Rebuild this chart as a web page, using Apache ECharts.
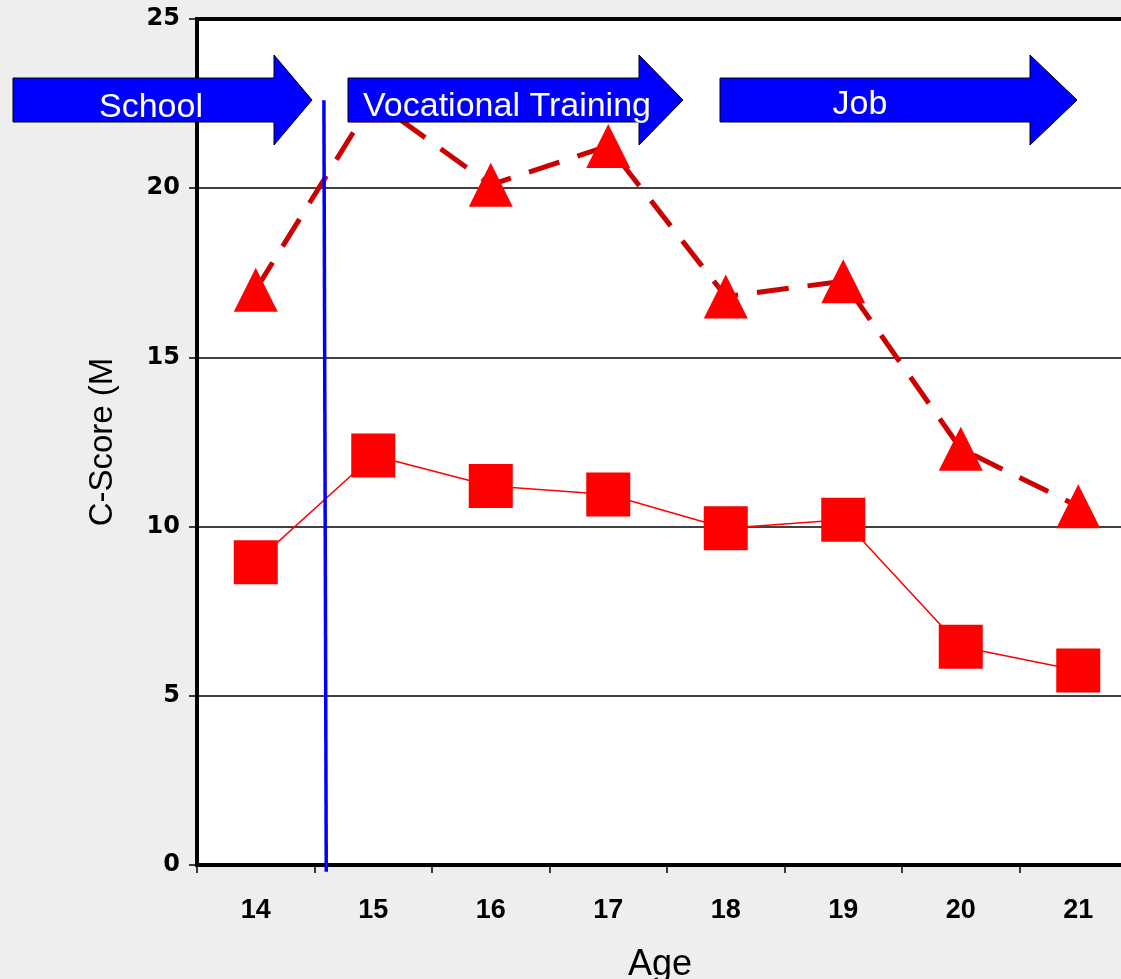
<!DOCTYPE html>
<html>
<head>
<meta charset="utf-8">
<script src="https://cdn.jsdelivr.net/npm/echarts@6/dist/echarts.min.js"></script>
<style>
  html, body { margin: 0; padding: 0; background: #eeeeee; overflow: hidden; }
  #chart { width: 1121px; height: 979px; }
</style>
</head>
<body>
<div id="chart"></div>
<script>
// ---- data ----
const categories = ['14', '15', '16', '17', '18', '19', '20', '21'];
const upperSeries = [17.0, 22.6, 20.1, 21.25, 16.8, 17.25, 12.3, 10.6];
const lowerSeries = [8.95, 12.1, 11.2, 10.95, 9.95, 10.2, 6.45, 5.75];
const yTicks = [0, 5, 10, 15, 20, 25];
// transition line (category index, value) between age 14 and 15
const transitionLine = [[0.58, 22.6], [0.6, -0.2]];
const phaseLabels = ['School', 'Vocational Training', 'Job'];

// ---- annotation geometry (arrows) ----
const arrowShapes = [
  { body: [13, 274], tip: 312, textX: 151, textY: 108 },
  { body: [348, 639], tip: 683, textX: 507, textY: 107 },
  { body: [720, 1030], tip: 1077, textX: 860, textY: 105 }
];

const FONT = '"Liberation Sans", Arial, Helvetica, sans-serif';
const WIDE = '"DejaVu Sans", Verdana, sans-serif';

const graphics = [];
arrowShapes.forEach((a, i) => {
  const x0 = a.body[0], x1 = a.body[1];
  graphics.push({
    type: 'polygon',
    z: 100,
    shape: { points: [[x0, 78], [x1, 78], [x1, 55], [a.tip, 100], [x1, 145], [x1, 122], [x0, 122]] },
    style: { fill: '#0000ff', stroke: '#000000', lineWidth: 1 }
  });
  graphics.push({
    type: 'text',
    z: 101,
    x: a.textX,
    y: a.textY,
    style: {
      text: phaseLabels[i],
      fill: '#ffffff',
      font: 'normal 34px ' + FONT,
      textAlign: 'center',
      textVerticalAlign: 'middle'
    }
  });
});

const chart = echarts.init(document.getElementById('chart'));
chart.setOption({
  animation: false,
  backgroundColor: '#eeeeee',
  grid: {
    left: 197, top: 19, width: 940, height: 846,
    show: true, backgroundColor: '#ffffff',
    borderColor: '#000000', borderWidth: 4,
    containLabel: false,
    outerBoundsMode: 'none'
  },
  xAxis: [
    {
      type: 'category',
      data: categories,
      boundaryGap: true,
      name: 'Age',
      nameLocation: 'middle',
      nameGap: 82,
      nameTextStyle: { fontFamily: FONT, fontSize: 36, color: '#000', padding: [0, 14, 0, 0] },
      axisLine: { lineStyle: { color: '#000', width: 4 } },
      axisTick: { show: true, length: 8, lineStyle: { color: '#000', width: 1.5 } },
      axisLabel: { fontFamily: FONT, fontSize: 27, fontWeight: 'bold', color: '#000', margin: 32 },
      splitLine: { show: false }
    },
    {
      type: 'value',
      min: -0.5, max: 7.5,
      show: false
    }
  ],
  yAxis: {
    type: 'value',
    min: 0, max: 25, interval: 5,
    name: 'C-Score (M',
    nameLocation: 'middle',
    nameGap: 78,
    nameTextStyle: { fontFamily: FONT, fontSize: 33, color: '#000' },
    axisLine: { show: true, onZero: false, lineStyle: { color: '#000', width: 4 } },
    axisTick: { show: true, length: 8, lineStyle: { color: '#000', width: 1.5 } },
    axisLabel: {
      fontFamily: WIDE, fontSize: 24, fontWeight: 'bold', color: '#000', margin: 17,
      padding: [6, 0, 0, 0],
      formatter: v => (yTicks.indexOf(v) >= 0 ? String(v) : '')
    },
    splitLine: { show: true, lineStyle: { color: '#000', width: 1.5 } }
  },
  series: [
    {
      type: 'line',
      name: 'upper',
      data: upperSeries,
      z: 3,
      symbol: 'triangle',
      symbolSize: 44,
      itemStyle: { color: '#ff0000' },
      lineStyle: { color: '#cc0000', width: 5, type: [32, 19], cap: 'butt' }
    },
    {
      type: 'line',
      name: 'lower',
      data: lowerSeries,
      z: 3,
      symbol: 'rect',
      symbolSize: 44,
      itemStyle: { color: '#ff0000' },
      lineStyle: { color: '#ff0000', width: 1.5 }
    },
    {
      type: 'line',
      name: 'transition',
      xAxisIndex: 1,
      data: transitionLine,
      z: 5,
      clip: false,
      symbol: 'none',
      lineStyle: { color: '#0000ff', width: 3.5 }
    }
  ],
  graphic: graphics
});
</script>
</body>
</html>
